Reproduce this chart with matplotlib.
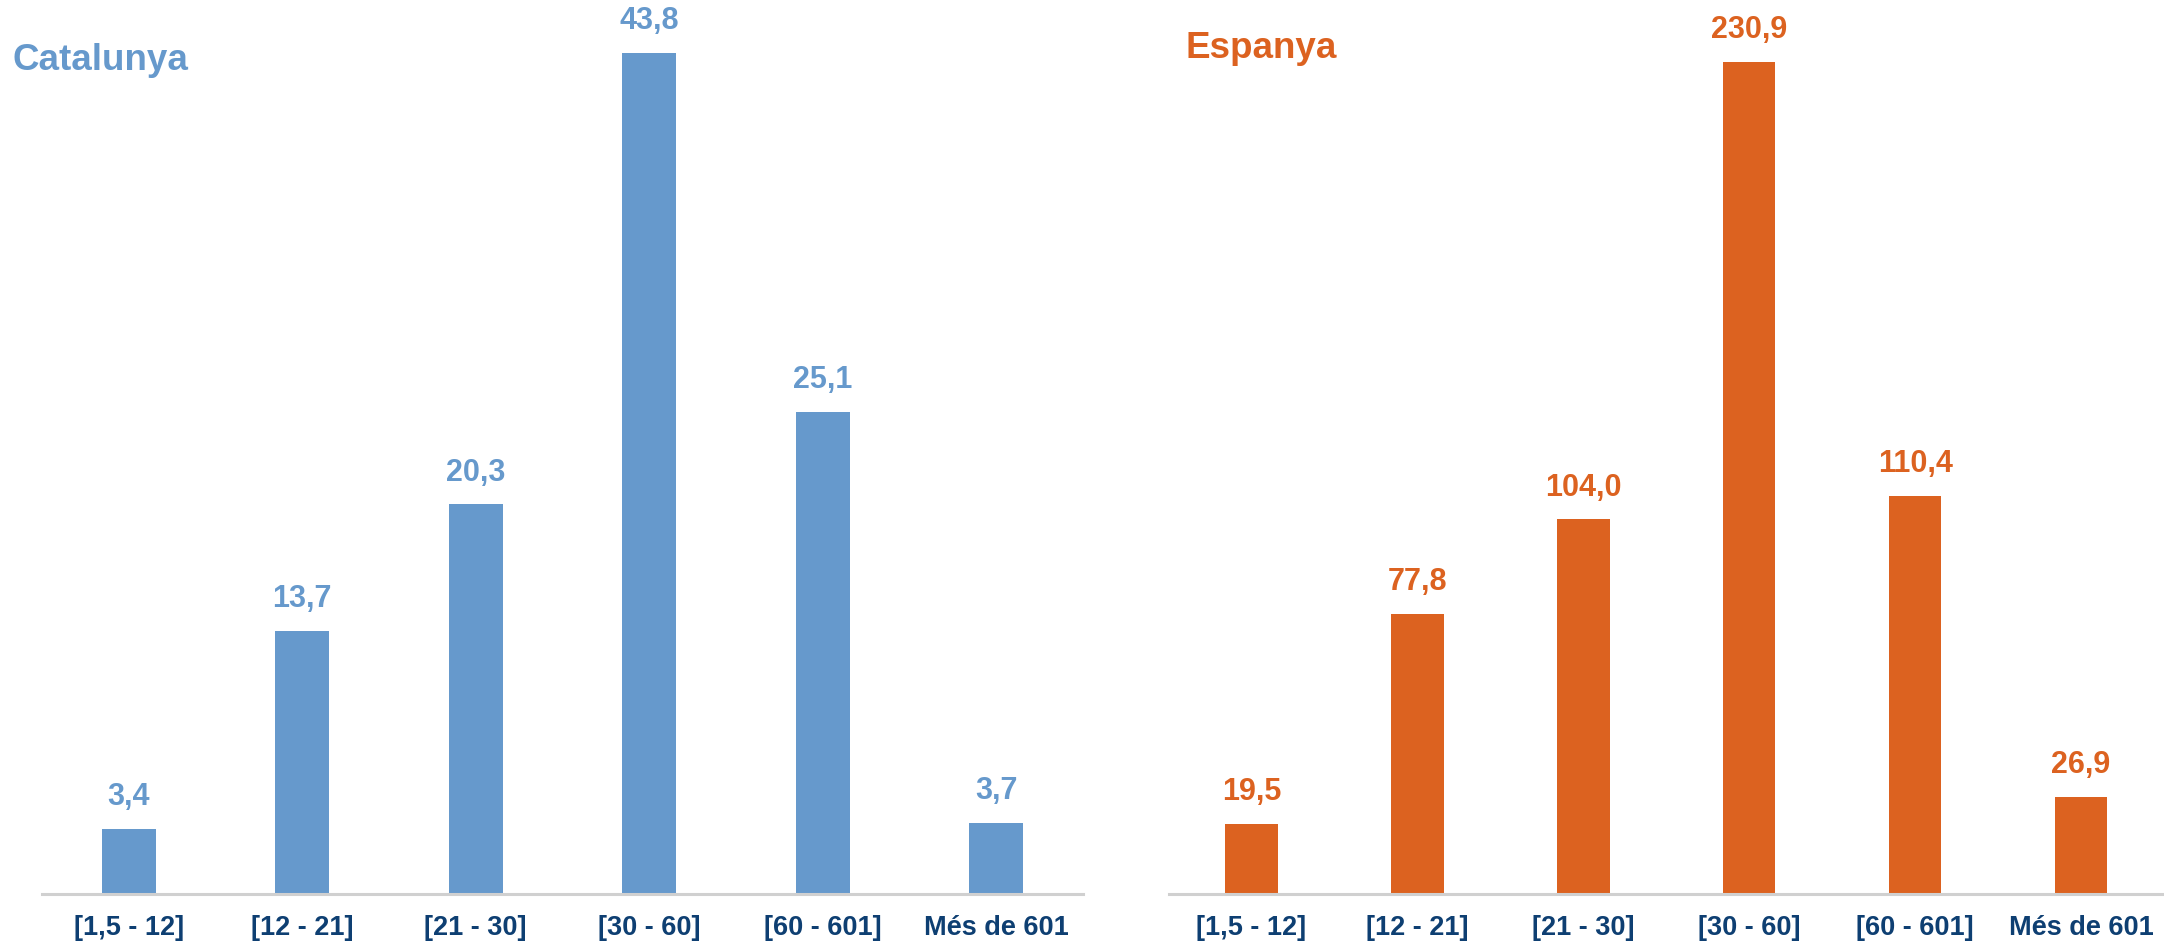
import matplotlib
matplotlib.use('Agg')
import matplotlib.pyplot as plt

# ---- data ----
categories = ['[1,5 - 12]', '[12 - 21]', '[21 - 30]', '[30 - 60]', '[60 - 601]', 'Més de 601']
catalunya = [3.4, 13.7, 20.3, 43.8, 25.1, 3.7]
espanya = [19.5, 77.8, 104.0, 230.9, 110.4, 26.9]

blue = '#6699CC'
orange = '#DC6220'
tick_color = '#0E3F72'

plt.rcParams['font.family'] = ['Liberation Sans', 'DejaVu Sans']

fig = plt.figure(figsize=(21.64, 9.43), dpi=100)

# axes rectangles (figure fraction), baseline ~ y=894 px
ax_l = fig.add_axes([0.0194, 0.052, 0.481, 0.948])
ax_r = fig.add_axes([0.540, 0.052, 0.460, 0.948])


def draw(ax, values, color, ymax, width):
    x = range(len(values))
    ax.bar(x, values, width=width, color=color, zorder=2)
    for xi, v in zip(x, values):
        ax.annotate(f'{v:.1f}'.replace('.', ','), (xi, v), xytext=(0, 12),
                    textcoords='offset points', ha='center', va='bottom',
                    fontsize=22, fontweight='bold', color=color)
    ax.set_xlim(-0.5, len(values) - 0.5)
    ax.set_ylim(0, ymax)
    ax.set_xticks(list(x))
    ax.set_xticklabels(categories, fontsize=19.5, fontweight='bold', color=tick_color)
    ax.tick_params(axis='x', length=0, pad=15)
    ax.set_yticks([])
    for s in ['top', 'left', 'right']:
        ax.spines[s].set_visible(False)
    ax.spines['bottom'].set_color('#D0D0D0')
    ax.spines['bottom'].set_linewidth(2.2)
    ax.patch.set_alpha(0)


draw(ax_l, catalunya, blue, 46.56, 0.31)
draw(ax_r, espanya, orange, 248.1, 0.316)

fig.text(13 / 2164, 1 - 61 / 943, 'Catalunya', fontsize=26.5, fontweight='bold',
         color=blue, ha='left', va='center')
fig.text(1185 / 2164, 1 - 49 / 943, 'Espanya', fontsize=26.5, fontweight='bold',
         color=orange, ha='left', va='center')

fig.savefig('out.png', dpi=100, facecolor='white')
